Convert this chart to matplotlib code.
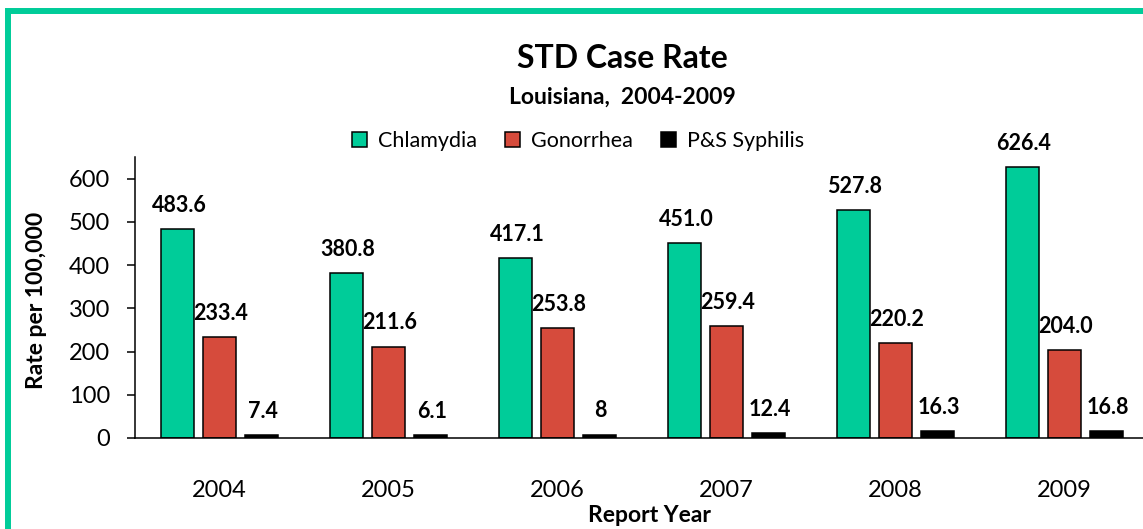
import numpy as np
import matplotlib.pyplot as plt
from matplotlib.patches import Rectangle

years = ['2004', '2005', '2006', '2007', '2008', '2009']
chlamydia = [483.6, 380.8, 417.1, 451.0, 527.8, 626.4]
gonorrhea = [233.4, 211.6, 253.8, 259.4, 220.2, 204.0]
syphilis = [7.4, 6.1, 8, 12.4, 16.3, 16.8]
chl_labels = ['483.6', '380.8', '417.1', '451.0', '527.8', '626.4']
gon_labels = ['233.4', '211.6', '253.8', '259.4', '220.2', '204.0']
syp_labels = ['7.4', '6.1', '8', '12.4', '16.3', '16.8']

plt.rcParams['font.family'] = ['Lato', 'DejaVu Sans']

W, H = 1143, 529
fig = plt.figure(figsize=(W/100, H/100), dpi=100)
ax = fig.add_axes([135/W, (H-438)/H, (1149-135)/W, (438-157)/H])

x = np.arange(len(years))
off = 0.248
bw = 0.2
series = [(chlamydia, chl_labels, '#00CC99', 'Chlamydia', -off),
          (gonorrhea, gon_labels, '#D64B3C', 'Gonorrhea', 0),
          (syphilis, syp_labels, '#000000', 'P&S Syphilis', off)]
for vals, labs, col, name, dx in series:
    bars = ax.bar(x + dx, vals, bw, color=col, edgecolor='black', linewidth=1.1, label=name)
    for b, t in zip(bars, labs):
        ax.annotate(t, (b.get_x() + b.get_width()/2, b.get_height()),
                    xytext=(1, 17), textcoords='offset points',
                    ha='center', va='center', fontsize=15.5, fontweight='bold')

ax.set_xlim(-0.5, len(years) - 0.5)
ax.set_ylim(0, 650)
ax.set_yticks([0, 100, 200, 300, 400, 500, 600])
ax.set_xticks(x)
ax.set_xticklabels(years)
ax.tick_params(axis='y', direction='out', length=6, width=1.1, pad=12, labelsize=17)
ax.tick_params(axis='x', length=0, pad=30, labelsize=17)
for s in ['top', 'right']:
    ax.spines[s].set_visible(False)
for s in ['left', 'bottom']:
    ax.spines[s].set_linewidth(1.1)

fig.text(622/W, 1 - 58/H, 'STD Case Rate', ha='center', va='center', fontsize=23, fontweight='bold')
fig.text(622/W, 1 - 97/H, 'Louisiana,  2004-2009', ha='center', va='center', fontsize=16.5, fontweight='bold')
fig.text(37/W, 1 - 300/H, 'Rate per 100,000', rotation=90, ha='center', va='center', fontsize=16.5, fontweight='bold')
fig.text(650/W, 1 - 515/H, 'Report Year', ha='center', va='center', fontsize=16.5, fontweight='bold')

fig.legend(loc='center', bbox_to_anchor=(578/W, 1 - 141/H), ncol=3, frameon=False,
           fontsize=15.5, handlelength=0.7, handleheight=0.7, handletextpad=0.5, columnspacing=1.3)

# teal frame around the chart
fig.patches.append(Rectangle((8/W, (H-531)/H), 1200/W, (531-11)/H, transform=fig.transFigure,
                             fill=False, edgecolor='#00CC99', linewidth=4.3, figure=fig))

fig.savefig('out.png', dpi=100)
